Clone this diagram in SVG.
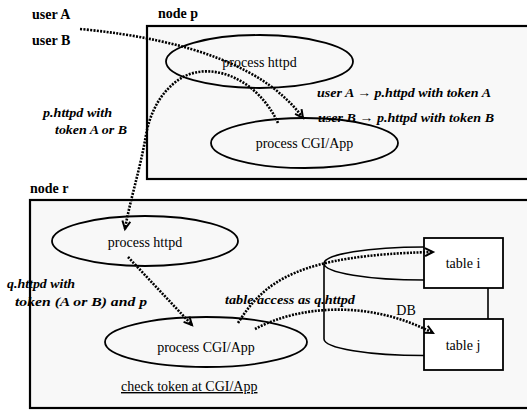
<svg xmlns="http://www.w3.org/2000/svg" width="527" height="413" viewBox="0 0 527 413">
<style>
.box{fill:#f8f8f8;stroke:#000;stroke-width:2.2}
.ell{fill:none;stroke:#000;stroke-width:1.8}
.tbl{fill:#fff;stroke:#000;stroke-width:1.8}
.line{fill:none;stroke:#000;stroke-width:1.6}
.dot{fill:none;stroke:#000;stroke-width:2.6;stroke-dasharray:2 1.3}
.t{font-family:"Liberation Serif","DejaVu Serif","Times New Roman",serif;font-size:14px;fill:#000}
.b{font-weight:bold}
.lab{font-family:"Liberation Serif","DejaVu Serif","Times New Roman",serif;font-size:13px;font-style:italic;font-weight:bold;fill:#000}
</style>
<defs>
<marker id="arr" markerUnits="userSpaceOnUse" markerWidth="12" markerHeight="12" refX="9" refY="5" orient="auto">
<path d="M1,1 L9,5 L1,9" fill="none" stroke="#000" stroke-width="2" stroke-dasharray="none"/>
</marker>
</defs>
<text class="t b" x="32" y="19">user A</text>
<text class="t b" x="32" y="45">user B</text>
<g id="node-p">
<rect class="box" x="147" y="26" width="395" height="153"/>
<text class="t b" x="158" y="18">node p</text>
</g>
<g id="node-r">
<rect class="box" x="30" y="200" width="512" height="208"/>
<text class="t b" x="30" y="193">node r</text>
</g>
<g id="p-httpd">
<ellipse class="ell" cx="259.5" cy="61.5" rx="93.5" ry="26.5"/>
<text class="t" x="259.5" y="67" text-anchor="middle">process httpd</text>
</g>
<g id="p-cgi">
<ellipse class="ell" cx="304.5" cy="143" rx="93.5" ry="25"/>
<text class="t" x="304.5" y="148" text-anchor="middle">process CGI/App</text>
</g>
<g id="r-httpd">
<ellipse class="ell" cx="145" cy="241" rx="93" ry="25"/>
<text class="t" x="145" y="247" text-anchor="middle">process httpd</text>
</g>
<g id="r-cgi">
<ellipse class="ell" cx="206" cy="342" rx="101" ry="25"/>
<text class="t" x="206" y="352" text-anchor="middle">process CGI/App</text>
<text class="t" x="121" y="391" text-decoration="underline">check token at CGI/App</text>
</g>
<g id="db">
<path class="line" d="M424 247 A100 16.5 0 0 0 324 263.5 A100 16.5 0 0 0 424 280 M324 263.5 L324 339 A100 16.5 0 0 0 424 355.5"/>
<text class="t" x="406" y="315" text-anchor="middle">DB</text>
</g>
<g id="table-i">
<rect class="tbl" x="424" y="238" width="79" height="50"/>
<text class="t" x="463" y="268" text-anchor="middle">table i</text>
</g>
<g id="table-j">
<rect class="tbl" x="424" y="319" width="79" height="51"/>
<text class="t" x="463" y="350" text-anchor="middle">table j</text>
</g>
<g id="connectors">
<line class="line" x1="488" y1="288" x2="488" y2="319"/>
<path class="dot" d="M80 29 Q250 45 303 118" marker-end="url(#arr)"/>
<path class="dot" d="M278 123 C258 80 215 62 185 76 C162 88 150 112 146 135 C140 170 130 200 125 229" marker-end="url(#arr)"/>
<path class="dot" d="M128 257 L192 325" marker-end="url(#arr)"/>
<path class="dot" d="M238 323 C265 280 300 255 433 252" marker-end="url(#arr)"/>
<path class="dot" d="M255 329 C300 305 370 300 433 333" marker-end="url(#arr)"/>
</g>
<g id="labels">
<text class="lab" x="43" y="117" textLength="69" lengthAdjust="spacingAndGlyphs">p.httpd with</text>
<text class="lab" x="55" y="134" textLength="72" lengthAdjust="spacingAndGlyphs">token A or B</text>
<text class="lab" x="317" y="97" textLength="174" lengthAdjust="spacingAndGlyphs">user A → p.httpd with token A</text>
<text class="lab" x="318" y="122" textLength="176" lengthAdjust="spacingAndGlyphs">user B → p.httpd with token B</text>
<text class="lab" x="7" y="288" textLength="68" lengthAdjust="spacingAndGlyphs">q.httpd with</text>
<text class="lab" x="15" y="306" textLength="132" lengthAdjust="spacingAndGlyphs">token (A or B) and p</text>
<text class="lab" x="225" y="304" textLength="130" lengthAdjust="spacingAndGlyphs">table access as q.httpd</text>
</g>
</svg>
